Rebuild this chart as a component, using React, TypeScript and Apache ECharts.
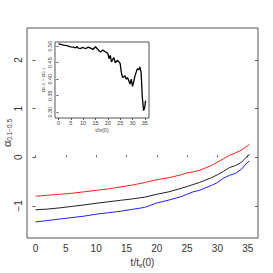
import React, { useEffect, useRef } from "react";
import * as echarts from "echarts";

const tMain = [0, 2, 4, 6, 8, 10, 12, 14, 16, 18, 20, 22, 24, 25, 26, 27, 28, 29, 30, 31, 32, 33, 34, 35, 35.3];
const alphaMid = [-1.08, -1.065, -1.04, -1.01, -0.98, -0.945, -0.915, -0.885, -0.855, -0.82, -0.76, -0.71, -0.64, -0.6, -0.56, -0.52, -0.47, -0.42, -0.36, -0.29, -0.21, -0.17, -0.1, 0.03, 0.06];
const alphaHigh = [-0.8, -0.78, -0.76, -0.74, -0.71, -0.68, -0.65, -0.61, -0.57, -0.52, -0.46, -0.42, -0.36, -0.32, -0.3, -0.27, -0.22, -0.17, -0.1, -0.03, 0.04, 0.09, 0.15, 0.24, 0.27];
const alphaLow = [-1.33, -1.3, -1.27, -1.24, -1.21, -1.17, -1.14, -1.11, -1.07, -1.03, -0.94, -0.88, -0.81, -0.76, -0.71, -0.68, -0.63, -0.58, -0.52, -0.43, -0.37, -0.33, -0.24, -0.1, -0.08];

const tInset = [0, 1, 2, 3, 4, 5, 6, 7, 7.5, 8, 9, 10, 11, 12, 13, 14, 15, 16, 17, 18, 19, 20, 20.5, 21, 21.5, 22, 22.5, 23, 24, 25, 25.5, 26, 27, 27.5, 28, 28.5, 29, 29.5, 30, 30.5, 31, 32, 32.5, 33, 33.5, 34, 34.5, 35, 35.3];
const diffInset = [0.507, 0.505, 0.503, 0.502, 0.5, 0.498, 0.497, 0.495, 0.499, 0.494, 0.493, 0.496, 0.492, 0.497, 0.494, 0.49, 0.498, 0.49, 0.482, 0.488, 0.483, 0.478, 0.462, 0.472, 0.452, 0.46, 0.465, 0.45, 0.457, 0.448, 0.42, 0.405, 0.41, 0.4, 0.405, 0.395, 0.385, 0.4, 0.378, 0.392, 0.41, 0.432, 0.428, 0.437, 0.42, 0.345, 0.305, 0.315, 0.335];

const mainXTicks = [0, 5, 10, 15, 20, 25, 30, 35];
const mainYTicks = [-1, 0, 1, 2];
const insetXTicks = [0, 5, 10, 15, 20, 25, 30, 35];
const insetYTicks = [0.3, 0.35, 0.4, 0.45, 0.5];

const FONT = "Liberation Sans";
const AX = "#555";

export default function App() {
  const ref = useRef<HTMLDivElement>(null);
  useEffect(() => {
    const chart = echarts.init(ref.current!, null, { renderer: "svg" });
    const pair = (xs: number[], ys: number[]) => xs.map((x, i) => [x, ys[i]]);
    const fmtMinus = (v: number, d: number) => (v < 0 ? "\u2212" : "") + Math.abs(v).toFixed(d);
    chart.setOption({
      animation: false,
      backgroundColor: "#fff",
      textStyle: { fontFamily: FONT },
      grid: [
        { left: 27, right: 15, top: 28, bottom: 35, show: true, borderColor: AX, borderWidth: 1, backgroundColor: "transparent", containLabel: false, outerBoundsMode: "none" },
        { left: 55, right: 124, top: 42, bottom: 155, show: true, borderColor: AX, borderWidth: 1, backgroundColor: "#fff", z: 5, containLabel: false, outerBoundsMode: "none" },
      ],
      xAxis: [
        {
          type: "value", gridIndex: 0, min: -1.41, max: 36.7,
          axisLine: { show: false },
          axisTick: { show: true, inside: true, length: 2, customValues: mainXTicks, lineStyle: { color: AX } },
          axisLabel: { customValues: mainXTicks, fontSize: 10, color: "#333", margin: 5, fontFamily: FONT, formatter: (v: number) => fmtMinus(v, 0) },
          splitLine: { show: false },
          name: "{a|t/t}{s|ff}{a|(0)}", nameLocation: "middle", nameGap: 14,
          nameTextStyle: { fontSize: 10, color: "#333", fontFamily: FONT, rich: { a: { fontSize: 10, lineHeight: 13, fontFamily: FONT, color: "#333" }, s: { fontSize: 6, lineHeight: 13, verticalAlign: "bottom", fontFamily: FONT, color: "#333" } } },
        },
        {
          type: "value", gridIndex: 1, min: -1.4, max: 36.7,
          axisLine: { show: false },
          axisTick: { show: true, length: 2, customValues: insetXTicks, lineStyle: { color: AX } },
          axisLabel: { customValues: insetXTicks, fontSize: 5.5, color: "#444", margin: 2, fontFamily: FONT },
          splitLine: { show: false },
          name: "t/t{s|ff}(0)", nameLocation: "middle", nameGap: 9,
          nameTextStyle: { fontSize: 5.5, color: "#444", fontFamily: FONT, rich: { s: { fontSize: 4, fontFamily: FONT, color: "#444" } } },
          z: 6,
        },
      ],
      yAxis: [
        {
          type: "value", gridIndex: 0, min: -1.66, max: 2.66,
          axisLine: { show: false },
          axisTick: { show: true, length: 3, customValues: mainYTicks, lineStyle: { color: AX } },
          axisLabel: { customValues: mainYTicks, fontSize: 10, color: "#333", margin: 4, rotate: 90, fontFamily: FONT, formatter: (v: number) => fmtMinus(v, 0) },
          splitLine: { show: false },
          name: "{a|α}{s|0.1\u22120.5}", nameLocation: "middle", nameGap: 14, nameRotate: 90, nameMoveOverlap: false,
          nameTextStyle: { fontSize: 10, color: "#333", fontFamily: FONT, rich: { a: { fontSize: 11, lineHeight: 12, fontFamily: FONT, color: "#333" }, s: { fontSize: 6.5, lineHeight: 12, fontFamily: FONT, color: "#333", verticalAlign: "bottom" } } },
        },
        {
          type: "value", gridIndex: 0, min: -1.66, max: 2.66, position: "right",
          axisLine: { show: false },
          axisTick: { show: true, inside: true, length: 3, customValues: mainYTicks, lineStyle: { color: AX } },
          axisLabel: { show: false },
          splitLine: { show: false },
        },
        {
          type: "value", gridIndex: 1, min: 0.2825, max: 0.5125,
          axisLine: { show: false },
          axisTick: { show: true, length: 2, customValues: insetYTicks, lineStyle: { color: AX } },
          axisLabel: { customValues: insetYTicks, fontSize: 5.5, color: "#444", margin: 2, rotate: 90, fontFamily: FONT, formatter: (v: number) => v.toFixed(2) },
          splitLine: { show: false },
          name: "{a|α}{s|0.5} \u2212 {a|α}{s|0.1}", nameLocation: "middle", nameGap: 9, nameRotate: 90,
          nameTextStyle: { fontSize: 5.5, color: "#444", fontFamily: FONT, rich: { a: { fontSize: 6, fontFamily: FONT, color: "#444" }, s: { fontSize: 4, fontFamily: FONT, color: "#444" } } },
          z: 6,
        },
      ],
      series: [
        { type: "line", xAxisIndex: 0, yAxisIndex: 0, data: pair(tMain, alphaHigh), showSymbol: false, lineStyle: { color: "#ff2020", width: 1 }, z: 2 },
        { type: "line", xAxisIndex: 0, yAxisIndex: 0, data: pair(tMain, alphaMid), showSymbol: false, lineStyle: { color: "#222", width: 1 }, z: 2 },
        { type: "line", xAxisIndex: 0, yAxisIndex: 0, data: pair(tMain, alphaLow), showSymbol: false, lineStyle: { color: "#2020ff", width: 1 }, z: 2 },
        { type: "line", xAxisIndex: 1, yAxisIndex: 2, data: pair(tInset, diffInset), showSymbol: false, lineStyle: { color: "#000", width: 1.3 }, z: 7 },
      ],
    });
    return () => chart.dispose();
  }, []);
  return <div ref={ref} style={{ position: "fixed", left: 0, top: 0, width: 273, height: 273 }} />;
}
